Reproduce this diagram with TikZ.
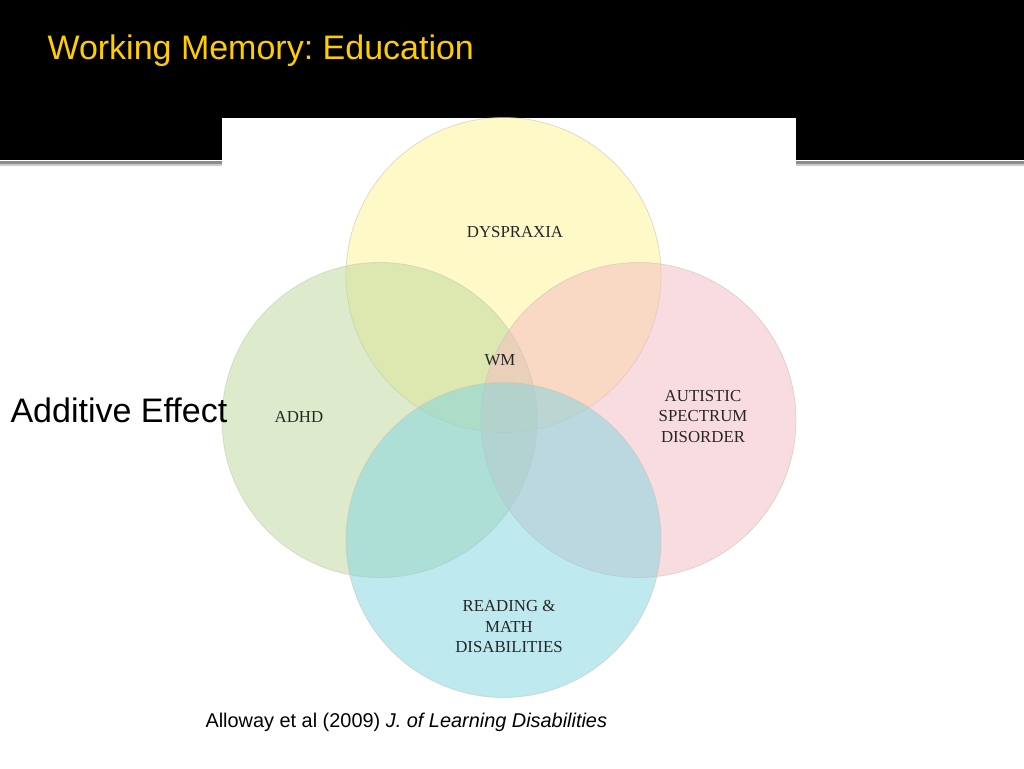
\documentclass[tikz,border=0pt]{standalone}
\usepackage{fontspec}
\setmainfont{Liberation Serif}
\newfontfamily\arialf{Liberation Sans}
\definecolor{titlegold}{HTML}{FFCC00}
\definecolor{cyel}{HTML}{FFF290}
\definecolor{cgrn}{HTML}{BCD89A}
\definecolor{cpnk}{HTML}{F5BAC2}
\definecolor{ccyn}{HTML}{7FD4E0}
\definecolor{ringc}{HTML}{C8C8B8}
\tikzset{
  venn/.style={circle, minimum size=315pt, inner sep=0pt, draw=ringc, line width=0.8pt, fill opacity=0.5, draw opacity=0.6},
  lab/.style={font=\fontsize{16.8}{20.5}\selectfont, align=center, text=black!85},
}
\begin{document}
\frenchspacing
\begin{tikzpicture}[x=1pt,y=-1pt]
\useasboundingbox (0,0) rectangle (1024,768);
\fill[white] (0,0) rectangle (1024,768);
\fill[black] (0,0) rectangle (1024,160);
\fill[black!45] (0,161) rectangle (1024,164);
\fill[black!20] (0,164) rectangle (1024,166);
\fill[white] (222,118) rectangle (796,170);
\node[anchor=west, text=titlegold, font=\arialf\fontsize{34}{40}\selectfont] (title) at (44,51) {Working Memory: Education};
\node[venn, fill=cyel] (dys) at (503.5,275) {};
\node[venn, fill=cgrn] (adhd) at (379.5,420) {};
\node[venn, fill=cpnk] (asd) at (638.5,420) {};
\node[venn, fill=ccyn] (rmd) at (503.5,540) {};
\node[lab] (tdys) at (515,232) {DYSPRAXIA};
\node[lab] (twm) at (500,360) {WM};
\node[lab] (tadhd) at (299,417) {ADHD};
\node[lab] (tasd) at (703,416.5) {AUTISTIC\\SPECTRUM\\DISORDER};
\node[lab] (trmd) at (509,626.5) {READING \&\\MATH\\DISABILITIES};
\node[anchor=west, font=\arialf\fontsize{34}{40}\selectfont] (add) at (7,410) {Additive Effect};
\node[anchor=west, font=\arialf\fontsize{19.9}{24}\selectfont] (cite) at (202,722) {Alloway et al (2009) \textit{J. of Learning Disabilities}};
\end{tikzpicture}
\end{document}
